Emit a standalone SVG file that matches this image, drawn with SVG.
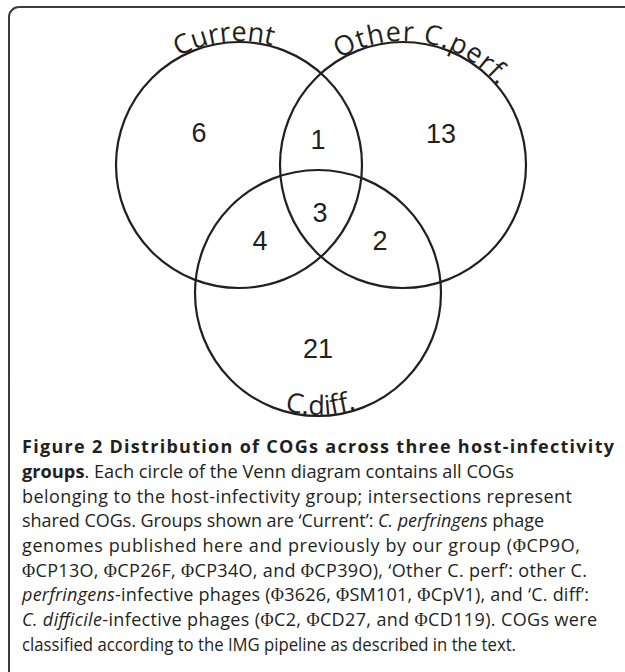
<svg xmlns="http://www.w3.org/2000/svg" width="625" height="672" viewBox="0 0 625 672">
<style>
.c{fill:none;stroke:#231f20;stroke-width:2.2}
.lab{font-family:"Open Sans","Noto Sans",sans-serif;font-size:27px;fill:#231f20}
.num{font-family:"Liberation Sans",Arial,sans-serif;font-size:27px;fill:#231f20;text-anchor:middle}
.cap{font-family:"Open Sans","Noto Sans",sans-serif;font-size:18px;fill:#231f20}
.b{font-weight:bold}
.i{font-style:italic}
.phi{font-family:"Liberation Serif","Times New Roman",serif}
</style>
<defs>
<path id="pCur" d="M 115 165 A 124 124 0 0 1 363 165"/>
<path id="pOth" d="M 279 165 A 124 124 0 0 1 527 165"/>
<path id="pDif" d="M 196 293 A 122 122 0 0 0 440 293"/>
</defs>
<rect id="frame" x="9" y="7" width="640" height="690" rx="10" ry="10" fill="#fff" stroke="#3c3c3c" stroke-width="2"/>
<g id="connectors"></g>
<g id="current">
<circle class="c" cx="239" cy="165" r="123"/>
<text class="lab" text-anchor="middle"><textPath href="#pCur" startOffset="180">Current</textPath></text>
</g>
<g id="other">
<circle class="c" cx="403" cy="165" r="123"/>
<text class="lab" text-anchor="middle" letter-spacing="1"><textPath href="#pOth" startOffset="216">Other C.perf.</textPath></text>
</g>
<g id="cdiff">
<circle class="c" cx="318" cy="293" r="123"/>
<text class="lab" text-anchor="middle"><textPath href="#pDif" startOffset="194">C.diff.</textPath></text>
</g>
<g id="counts">
<text class="num" x="199" y="142">6</text>
<text class="num" x="318" y="149">1</text>
<text class="num" x="441" y="143">13</text>
<text class="num" x="320" y="222">3</text>
<text class="num" x="260" y="250">4</text>
<text class="num" x="380" y="250">2</text>
<text class="num" x="318" y="358">21</text>
</g>
<g id="caption">
<text class="cap b" x="22" y="453" textLength="592">Figure 2 Distribution of COGs across three host-infectivity</text>
<text class="cap" x="22" y="478" textLength="492" lengthAdjust="spacingAndGlyphs"><tspan class="b">groups</tspan>. Each circle of the Venn diagram contains all COGs</text>
<text class="cap" x="22" y="503" textLength="550">belonging to the host-infectivity group; intersections represent</text>
<text class="cap" x="22" y="527" textLength="522">shared COGs. Groups shown are ‘Current’: <tspan class="i">C. perfringens</tspan> phage</text>
<text class="cap" x="22" y="552" textLength="558">genomes published here and previously by our group (<tspan class="phi">Φ</tspan>CP9O,</text>
<text class="cap" x="22" y="577" textLength="565"><tspan class="phi">Φ</tspan>CP13O, <tspan class="phi">Φ</tspan>CP26F, <tspan class="phi">Φ</tspan>CP34O, and <tspan class="phi">Φ</tspan>CP39O), ‘Other C. perf’: other C.</text>
<text class="cap" x="22" y="601" textLength="567"><tspan class="i">perfringens</tspan>-infective phages (<tspan class="phi">Φ</tspan>3626, <tspan class="phi">Φ</tspan>SM101, <tspan class="phi">Φ</tspan>CpV1), and ‘C. diff’:</text>
<text class="cap" x="22" y="626" textLength="575"><tspan class="i">C. difficile</tspan>-infective phages (<tspan class="phi">Φ</tspan>C2, <tspan class="phi">Φ</tspan>CD27, and <tspan class="phi">Φ</tspan>CD119). COGs were</text>
<text class="cap" x="22" y="651" textLength="494" lengthAdjust="spacingAndGlyphs">classified according to the IMG pipeline as described in the text.</text>
</g>
</svg>
